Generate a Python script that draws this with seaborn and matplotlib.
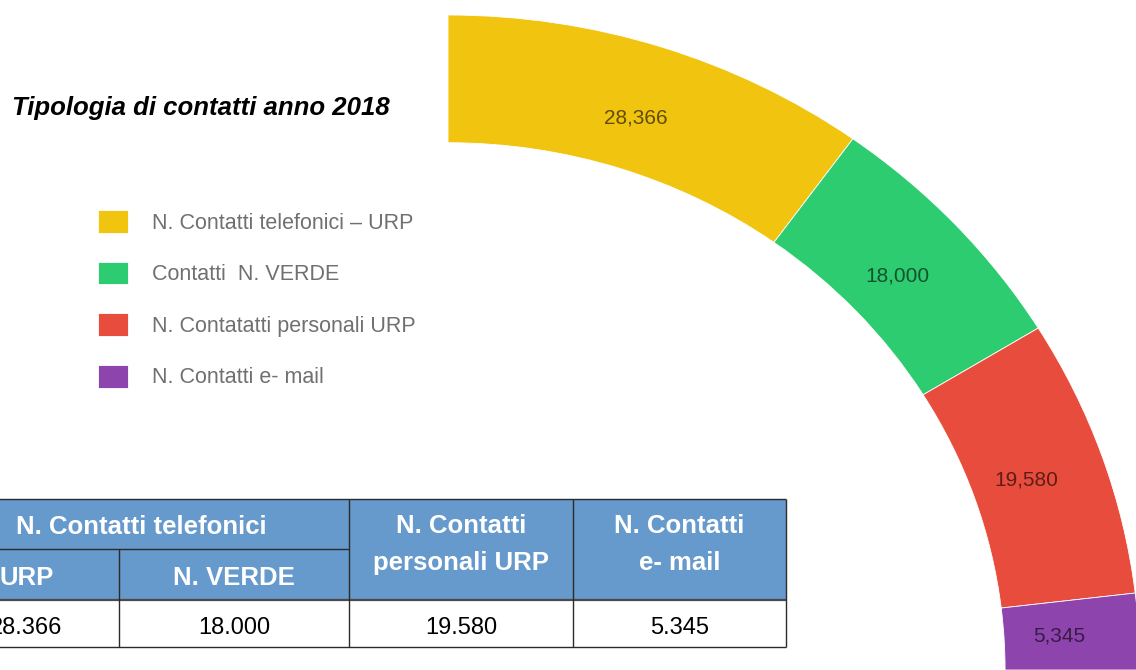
import numpy as np
import matplotlib.pyplot as plt
import seaborn as sns
from matplotlib.patches import Rectangle

# data
categories = ["N. Contatti telefonici – URP", "Contatti  N. VERDE",
              "N. Contatatti personali URP", "N. Contatti e- mail"]
contacts = [28366, 18000, 19580, 5345]
slice_colors = ["#F1C40F", "#2ECC71", "#E74C3C", "#8E44AD"]

table_top = ["N. Contatti telefonici", "N. Contatti\npersonali URP", "N. Contatti\ne- mail"]
table_sub = ["URP", "N. VERDE"]

sns.set_theme(style="white")
plt.rcParams["font.family"] = ["Liberation Sans", "DejaVu Sans"]
palette = sns.color_palette(slice_colors)

fig = plt.figure(figsize=(11.36, 6.7), dpi=100)

# ---------------------------------------------------------------------------
# quarter doughnut
# ---------------------------------------------------------------------------
ax = fig.add_axes([0, 0, 1, 1])
total = sum(contacts)
wedges, _ = ax.pie(contacts + [3 * total], colors=list(palette) + ["white"],
                   startangle=90, counterclock=False, radius=1,
                   wedgeprops=dict(width=0.195, edgecolor="white", linewidth=0.6))
wedges[-1].set_visible(False)
ax.set_aspect("auto")
ax.set_xlim(-448 / 692, (1136 - 448) / 692)
ax.set_ylim(0, 670 / 655)
ax.axis("off")

for w, v in zip(wedges[:4], contacts):
    mid = np.deg2rad((w.theta1 + w.theta2) / 2)
    ax.text(0.885 * np.cos(mid), 0.885 * np.sin(mid), f"{v:,}",
            ha="center", va="center", fontsize=15, color="black", alpha=0.6)

# title + legend
fig.text(12 / 1136, 1 - 115 / 670, "Tipologia di contatti anno 2018",
         fontsize=18.5, fontweight="bold", fontstyle="italic", color="black", va="baseline")

fig.legend(wedges[:4], categories, loc="upper left",
           bbox_to_anchor=(98 / 1136, 1 - 210 / 670), frameon=False,
           fontsize=15.5, labelcolor="#707070", handlelength=1.4, handleheight=1.25,
           handletextpad=1.1, labelspacing=1.3, borderpad=0, borderaxespad=0)

# ---------------------------------------------------------------------------
# table under the legend (pixel coordinates)
# ---------------------------------------------------------------------------
tax = fig.add_axes([0, 0, 1, 1], zorder=3)
tax.set_xlim(0, 1136)
tax.set_ylim(670, 0)
tax.axis("off")
tax.patch.set_alpha(0)

col_x = [-66, 119, 349, 573, 786]
row_y = [499, 549, 600, 647]
head_col = "#6699CC"
line_col = "#2b2b2b"

tax.add_patch(Rectangle((col_x[0], row_y[0]), col_x[4] - col_x[0], row_y[2] - row_y[0],
                        facecolor=head_col, edgecolor="none"))
tax.add_patch(Rectangle((col_x[0], row_y[2]), col_x[4] - col_x[0], row_y[3] - row_y[2],
                        facecolor="white", edgecolor="none"))

# grid lines
tax.hlines([row_y[0], row_y[3]], col_x[0], col_x[4], color=line_col, lw=1.0)
tax.hlines(row_y[2], col_x[0], col_x[4], color="#4a4a4a", lw=1.6)
tax.hlines(row_y[1], col_x[0], col_x[2], color=line_col, lw=1.0)
tax.vlines(col_x[1], row_y[1], row_y[3], color=line_col, lw=1.0)
tax.vlines(col_x[2:], row_y[0], row_y[3], color=line_col, lw=1.0)

head_kw = dict(ha="center", va="baseline", fontsize=18.5, fontweight="bold", color="white")
tax.text((col_x[0] + col_x[2]) / 2, 534, table_top[0], **head_kw)
for i, label in enumerate(table_top[1:]):
    cx = (col_x[i + 2] + col_x[i + 3]) / 2
    l1, l2 = label.split("\n")
    tax.text(cx, 533, l1, **head_kw)
    tax.text(cx, 570, l2, **head_kw)
for i, label in enumerate(table_sub):
    tax.text((col_x[i] + col_x[i + 1]) / 2, 585, label, **head_kw)

for i, v in enumerate(contacts):
    tax.text((col_x[i] + col_x[i + 1]) / 2, 633.5, f"{v:,}".replace(",", "."),
             ha="center", va="baseline", fontsize=17, color="black")

fig.savefig("out.png", dpi=100)
